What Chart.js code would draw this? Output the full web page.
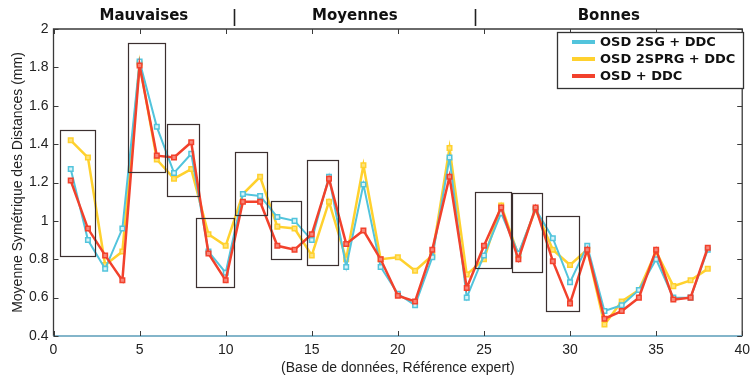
<!DOCTYPE html>
<html>
<head>
<meta charset="utf-8">
<script src="https://cdn.jsdelivr.net/npm/chart.js@4.4.1/dist/chart.umd.min.js"></script>
<style>
html,body{margin:0;padding:0;background:#fff;}
#wrap{width:756px;height:378px;position:relative;}
</style>
</head>
<body>
<div id="wrap"><canvas id="c" width="756" height="378"></canvas></div>
<script>
// ---- data ----
const categories = [1,2,3,4,5,6,7,8,9,10,11,12,13,14,15,16,17,18,19,20,21,22,23,24,25,26,27,28,29,30,31,32,33,34,35,36,37,38];
const seriesLabels = ['OSD 2SG + DDC', 'OSD 2SPRG + DDC', 'OSD + DDC'];
const osd2sg   = [1.27,0.90,0.75,0.96,1.83,1.49,1.25,1.35,0.84,0.73,1.14,1.13,1.02,1.00,0.90,1.23,0.76,1.19,0.76,0.62,0.56,0.81,1.33,0.60,0.82,1.04,0.83,1.06,0.91,0.68,0.87,0.53,0.56,0.64,0.80,0.60,0.60,0.85];
const osd2sprg = [1.42,1.33,0.77,0.84,1.82,1.32,1.22,1.27,0.93,0.87,1.14,1.23,0.97,0.96,0.82,1.10,0.80,1.29,0.80,0.81,0.74,0.82,1.38,0.72,0.80,1.08,0.82,1.06,0.85,0.77,0.85,0.46,0.58,0.64,0.84,0.66,0.69,0.75];
const osdddc   = [1.21,0.96,0.82,0.69,1.81,1.34,1.33,1.41,0.83,0.69,1.10,1.10,0.87,0.85,0.93,1.22,0.88,0.95,0.80,0.61,0.58,0.85,1.23,0.65,0.87,1.07,0.80,1.07,0.79,0.57,0.85,0.49,0.53,0.60,0.85,0.59,0.60,0.86];
const xTicks = [0,5,10,15,20,25,30,35,40];
const yTicks = [0.4,0.6,0.8,1,1.2,1.4,1.6,1.8,2];
// highlighted boxes: [x0, x1, y0, y1] in data units
const boxesX0 = [0.4, 4.3, 6.62, 8.29, 10.56, 12.64, 14.7, 24.5, 26.65, 28.63];
const boxesX1 = [2.45, 6.43, 8.45, 10.47, 12.41, 14.41, 16.48, 26.57, 28.38, 30.55];
const boxesY0 = [0.82, 1.255, 1.13, 0.652, 1.03, 0.80, 0.77, 0.756, 0.732, 0.532];
const boxesY1 = [1.475, 1.925, 1.503, 1.013, 1.357, 1.103, 1.315, 1.152, 1.143, 1.027];
const groupLabels = ['Mauvaises', 'Moyennes', 'Bonnes'];
const groupBounds = [0, 10.5, 24.5, 40];

const colCyan = '#52c4dc', colYellow = '#ffd12e', colRed = '#f2412c';

function pts(arr){ return arr.map((v,i)=>({x:categories[i], y:v})); }

const overlay = {
  id:'overlay',
  afterDatasetsDraw(chart){
    const ctx = chart.ctx, xs = chart.scales.x, ys = chart.scales.y, a = chart.chartArea;
    ctx.save();
    // boxes
    ctx.strokeStyle = '#3b2f2f'; ctx.lineWidth = 1.2;
    for (let i=0;i<boxesX0.length;i++){
      const x0 = xs.getPixelForValue(boxesX0[i]), x1 = xs.getPixelForValue(boxesX1[i]);
      const y0 = ys.getPixelForValue(boxesY0[i]), y1 = ys.getPixelForValue(boxesY1[i]);
      ctx.strokeRect(Math.round(x0)+0.5, Math.round(y1)+0.5, Math.round(x1-x0), Math.round(y0-y1));
    }
    // frame
    ctx.lineWidth = 1.3;
    ctx.strokeStyle = '#3a3a3a';
    ctx.beginPath();
    ctx.moveTo(a.left, a.bottom); ctx.lineTo(a.left, a.top); ctx.lineTo(a.right, a.top); ctx.lineTo(a.right, a.bottom);
    ctx.stroke();
    ctx.strokeStyle = '#5a9cb8';
    ctx.beginPath(); ctx.moveTo(a.left, a.bottom); ctx.lineTo(a.right, a.bottom); ctx.stroke();
    // inward ticks
    ctx.strokeStyle = '#3a3a3a'; ctx.lineWidth = 1;
    const tl = 5;
    ctx.beginPath();
    xTicks.forEach(t=>{
      const px = Math.round(xs.getPixelForValue(t))+0.5;
      ctx.moveTo(px, a.bottom); ctx.lineTo(px, a.bottom - tl);
      ctx.moveTo(px, a.top); ctx.lineTo(px, a.top + tl);
    });
    yTicks.forEach(t=>{
      const py = Math.round(ys.getPixelForValue(t))+0.5;
      ctx.moveTo(a.left, py); ctx.lineTo(a.left + tl, py);
      ctx.moveTo(a.right, py); ctx.lineTo(a.right - tl, py);
    });
    ctx.stroke();
    // group separators and labels
    ctx.strokeStyle = '#222'; ctx.lineWidth = 1.6;
    ctx.beginPath();
    for (let i=1;i<groupBounds.length-1;i++){
      const px = Math.round(xs.getPixelForValue(groupBounds[i]))+0.5;
      ctx.moveTo(px, 9); ctx.lineTo(px, 26);
    }
    ctx.stroke();
    ctx.fillStyle = '#111';
    ctx.font = 'bold 15px "DejaVu Sans"';
    ctx.textAlign = 'center'; ctx.textBaseline = 'middle';
    groupLabels.forEach((g,i)=>{
      const mid = (groupBounds[i]+groupBounds[i+1])/2;
      ctx.fillText(g, xs.getPixelForValue(mid), 16);
    });
    // legend
    const lx = 557.5, ly = 32.5, lw = 186, lh = 56;
    ctx.fillStyle = '#fff';
    ctx.fillRect(lx, ly, lw, lh);
    ctx.strokeStyle = '#333'; ctx.lineWidth = 1.3;
    ctx.strokeRect(lx, ly, lw, lh);
    ctx.font = 'bold 13px "DejaVu Sans"';
    ctx.textAlign = 'left';
    chart.data.datasets.slice().sort((p,q)=>p.order2-q.order2).forEach((ds,i)=>{
      const yy = 42 + i*17;
      ctx.strokeStyle = ds.borderColor; ctx.lineWidth = 4;
      ctx.beginPath(); ctx.moveTo(572, yy); ctx.lineTo(595, yy); ctx.stroke();
      ctx.fillStyle = '#111';
      ctx.fillText(ds.label, 600, yy+1);
    });
    ctx.restore();
  }
};

new Chart(document.getElementById('c'), {
  type:'line',
  data:{
    datasets:[
      {label:seriesLabels[1], order2:1, data:pts(osd2sprg), borderColor:colYellow, backgroundColor:colYellow,
       pointBackgroundColor:'#ffe27a', pointBorderColor:colYellow, borderWidth:2.5, pointStyle:'rect', pointRadius:3.2, pointBorderWidth:1.5, order:3},
      {label:seriesLabels[0], order2:0, data:pts(osd2sg), borderColor:colCyan, backgroundColor:colCyan,
       pointBackgroundColor:'#d8f3f8', pointBorderColor:colCyan, borderWidth:2, pointStyle:'rect', pointRadius:3.2, pointBorderWidth:1.5, order:2},
      {label:seriesLabels[2], order2:2, data:pts(osdddc), borderColor:colRed, backgroundColor:colRed,
       pointBackgroundColor:'#f7867a', pointBorderColor:colRed, borderWidth:2.5, pointStyle:'rect', pointRadius:3.2, pointBorderWidth:1.5, order:1}
    ]
  },
  options:{
    responsive:false, animation:false, devicePixelRatio:1,
    layout:{padding:{left:0, right:9, top:29, bottom:0}},
    plugins:{legend:{display:false}, tooltip:{enabled:false}},
    scales:{
      x:{type:'linear', min:0, max:40,
         afterBuildTicks(s){ s.ticks = xTicks.map(v=>({value:v})); },
         afterFit(s){ s.height = 42; },
         grid:{display:false, drawTicks:false}, border:{display:false},
         ticks:{color:'#222', font:{family:'"Liberation Sans", Arial', size:14}, padding:6, maxRotation:0,
                callback:v=>String(v)},
         title:{display:true, text:'(Base de données, Référence expert)', color:'#222',
                font:{family:'"Liberation Sans", Arial', size:14}, padding:{top:0, bottom:1}}
      },
      y:{type:'linear', min:0.4, max:2,
         afterBuildTicks(s){ s.ticks = yTicks.map(v=>({value:v})); },
         afterFit(s){ s.width = 53.5; },
         grid:{display:false, drawTicks:false}, border:{display:false},
         ticks:{color:'#222', font:{family:'"Liberation Sans", Arial', size:14}, padding:5,
                callback:v=>String(Math.round(v*10)/10)},
         title:{display:true, text:'Moyenne Symétrique des Distances (mm)', color:'#222',
                font:{family:'"Liberation Sans", Arial', size:14}, padding:{top:10, bottom:0}}
      }
    }
  },
  plugins:[overlay]
});
</script>
</body>
</html>
